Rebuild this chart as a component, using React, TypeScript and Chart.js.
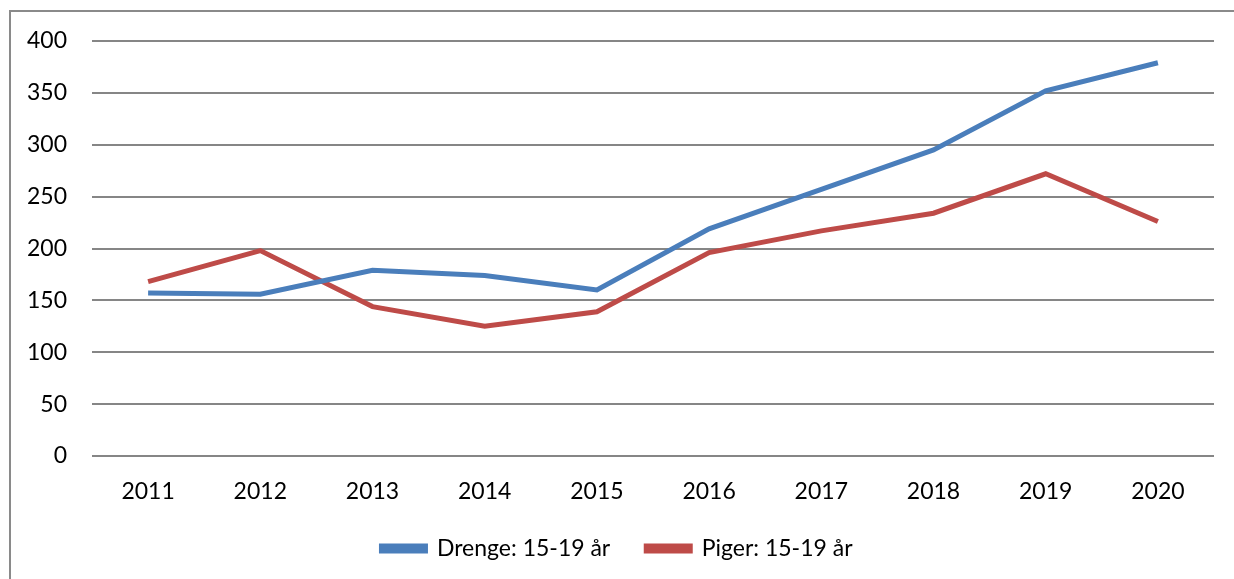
import React, { useEffect, useRef } from "react";
import { Chart, registerables } from "chart.js";

Chart.register(...registerables);

const years = ["2011", "2012", "2013", "2014", "2015", "2016", "2017", "2018", "2019", "2020"];
const drenge = [157, 156, 179, 174, 160, 219, 257, 295, 352, 379];
const piger = [168, 198, 144, 125, 139, 196, 217, 234, 272, 226];
const seriesLabels = ["Drenge: 15-19 år", "Piger: 15-19 år"];

export default function App() {
  const ref = useRef<HTMLCanvasElement | null>(null);
  useEffect(() => {
    if (!ref.current) return;
    const font = { family: "Lato, 'Open Sans', sans-serif", size: 23 };
    const chart = new Chart(ref.current, {
      type: "line",
      data: {
        labels: years,
        datasets: [
          {
            label: seriesLabels[0],
            data: drenge,
            borderColor: "#4A7EBB",
            backgroundColor: "#4A7EBB",
            borderWidth: 5,
            pointRadius: 0,
            tension: 0,
          },
          {
            label: seriesLabels[1],
            data: piger,
            borderColor: "#BE4B48",
            backgroundColor: "#BE4B48",
            borderWidth: 5,
            pointRadius: 0,
            tension: 0,
          },
        ],
      },
      options: {
        animation: false,
        responsive: false,
        layout: { padding: { top: 41, right: 0, left: 0, bottom: 0 } },
        plugins: {
          legend: {
            position: "bottom",
            labels: {
              font,
              color: "#000",
              boxWidth: 44,
              boxHeight: 5,
              padding: 36,
            },
          },
          tooltip: { enabled: false },
        },
        scales: {
          x: {
            offset: true,
            grid: { display: false, drawTicks: false },
            border: { display: false },
            ticks: { font, color: "#000", padding: 22, maxRotation: 0 },
            afterFit: (s: any) => {
              s.height = 45;
            },
          },
          y: {
            min: 0,
            max: 400,
            ticks: { stepSize: 50, font, color: "#000", padding: 25 },
            grid: { color: "#868686", lineWidth: 2, drawTicks: false },
            border: { display: false },
            afterFit: (s: any) => {
              s.width = 92;
            },
          },
          y2: {
            type: "linear",
            position: "right",
            display: true,
            grid: { display: false, drawTicks: false },
            border: { display: false },
            ticks: { display: false },
            afterFit: (s: any) => {
              s.width = 20;
            },
          },
        },
      },
    });
    return () => chart.destroy();
  }, []);
  return (
    <div style={{ position: "absolute", left: 0, top: 0, width: 1234, height: 579, overflow: "hidden", background: "#fff" }}>
      <div
        style={{
          position: "absolute",
          left: 9,
          top: 10,
          width: 1400,
          height: 700,
          border: "2px solid #8a8a8a",
          boxSizing: "border-box",
        }}
      />
      <canvas ref={ref} width={1234} height={570} style={{ position: "absolute", left: 0, top: 0 }} />
    </div>
  );
}
